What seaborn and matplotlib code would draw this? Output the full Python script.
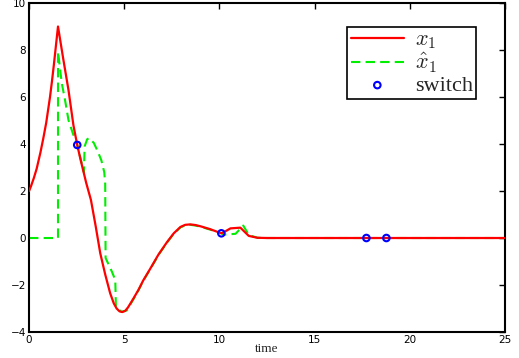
import numpy as np
import pandas as pd
import matplotlib
matplotlib.use('Agg')
import matplotlib.pyplot as plt
import seaborn as sns

# dane
t_x1 = [0.0, 0.1, 0.25, 0.4, 0.5, 0.6, 0.75, 0.9, 1.0, 1.1, 1.2, 1.3, 1.4, 1.52,
        1.8, 2.07, 2.33, 2.53, 2.7, 2.86, 3.0, 3.25, 3.5, 3.74, 4.0, 4.26, 4.45,
        4.6, 4.75, 4.9, 5.05, 5.2, 5.5, 5.75, 6.0, 6.37, 6.8, 7.25, 7.6, 7.95,
        8.2, 8.47, 8.75, 9.0, 9.5, 10.1, 10.3, 10.58, 11.1, 11.54, 12.0, 12.5, 25.0]
x1 = [2.0, 2.2, 2.55, 2.95, 3.3, 3.65, 4.25, 4.9, 5.45, 6.0, 6.65, 7.35, 8.1, 9.0,
      7.6, 6.3, 4.8, 3.96, 3.35, 2.82, 2.35, 1.62, 0.5, -0.65, -1.55, -2.35, -2.78,
      -3.0, -3.12, -3.15, -3.1, -2.95, -2.55, -2.2, -1.8, -1.3, -0.7, -0.17, 0.2, 0.47,
      0.56, 0.58, 0.55, 0.5, 0.38, 0.2, 0.28, 0.41, 0.44, 0.09, 0.01, 0.0, 0.0]

t_x1hat = [0.0, 1.52, 1.52, 1.72, 1.89, 2.07, 2.3, 2.53, 2.7, 2.88, 2.92, 3.05, 3.15,
           3.4, 3.6, 3.8, 3.95, 4.0, 4.02, 4.35, 4.53, 4.56, 4.85, 5.14, 5.5, 5.75,
           6.0, 6.37, 6.8, 7.25, 7.6, 7.95, 8.2, 8.47, 8.75, 9.0, 9.5, 10.1, 10.25,
           10.85, 11.25, 11.55, 12.0, 12.5, 25.0]
x1hat = [0.0, 0.0, 7.93, 6.58, 5.87, 5.02, 4.45, 3.96, 3.4, 2.8, 3.9, 4.2, 4.25,
         4.05, 3.7, 3.3, 2.8, 2.3, -0.85, -1.43, -1.79, -2.92, -3.14, -3.08, -2.58, -2.22,
         -1.82, -1.32, -0.72, -0.19, 0.18, 0.45, 0.54, 0.56, 0.53, 0.48, 0.36, 0.2, 0.14,
         0.18, 0.53, 0.12, 0.01, 0.0, 0.0]

t_switch = [2.53, 10.1, 17.72, 18.77]
x_switch = [3.96, 0.2, 0.0, 0.0]

sns.set_style('white')
plt.rcParams['mathtext.fontset'] = 'cm'

fig = plt.figure(figsize=(5.19, 3.58), dpi=100)
ax = fig.add_axes([0.056, 0.0726, 0.917, 0.919])

sns.lineplot(x=t_x1, y=x1, ax=ax, color='red', lw=1.6, sort=False,
             estimator=None, label=r'$x_1$', zorder=3)
sns.lineplot(x=t_x1hat, y=x1hat, ax=ax, color='#00ee00', lw=1.5, sort=False,
             estimator=None, label=r'$\hat{x}_1$', zorder=2)
ax.lines[-1].set_dashes([4.5, 2.5])
sns.scatterplot(x=t_switch, y=x_switch, ax=ax, marker='o', s=22,
                facecolor='none', edgecolor='blue', linewidth=1.5,
                label='switch', zorder=4)

ax.set_xlim(0, 25)
ax.set_ylim(-4, 10)
ax.set_xticks(np.arange(0, 26, 5))
ax.set_yticks(np.arange(-4, 11, 2))
ax.tick_params(direction='in', length=4, width=1, labelsize=7.5,
               top=True, right=True, colors='black', pad=2)
for s in ax.spines.values():
    s.set_linewidth(1.5)
    s.set_color('black')
ax.set_xlabel('time', family='Liberation Serif', fontsize=9.5, labelpad=-1)
ax.set_ylabel('')

leg = ax.legend(loc='upper right', bbox_to_anchor=(0.94, 0.928),
                prop={'family': 'Liberation Serif', 'size': 16},
                handlelength=2.4, labelspacing=0.0, borderpad=0.15,
                handletextpad=0.5, fancybox=False, framealpha=1,
                edgecolor='black', borderaxespad=0)
leg.get_frame().set_linewidth(1.2)

fig.savefig('out.png', dpi=100)
